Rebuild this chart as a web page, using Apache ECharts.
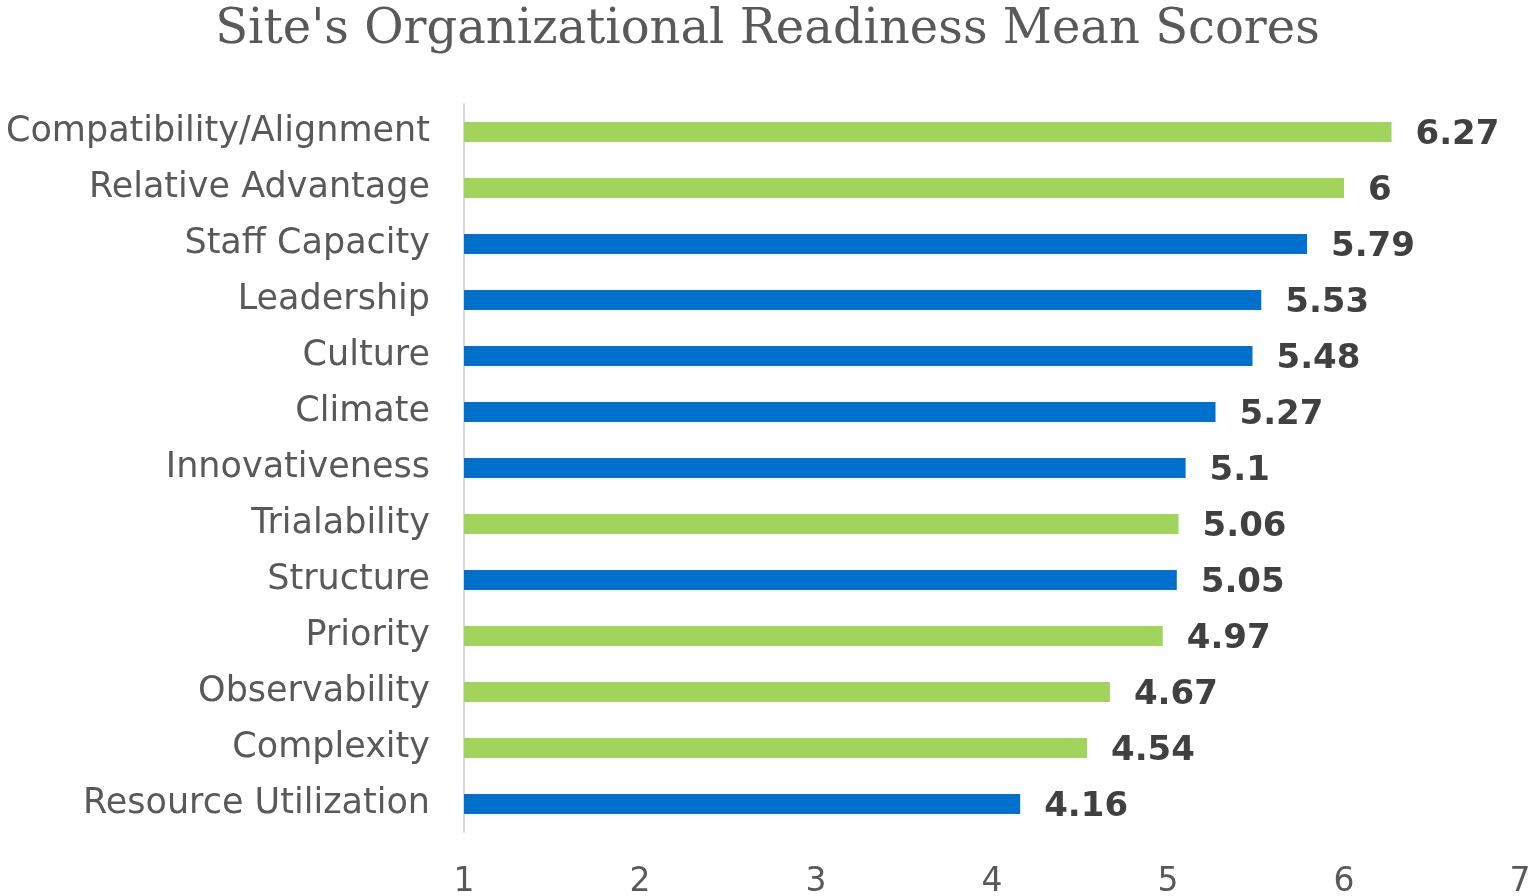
<!DOCTYPE html>
<html>
<head>
<meta charset="utf-8">
<script src="https://cdn.jsdelivr.net/npm/echarts@6/dist/echarts.min.js"></script>
<style>html,body{margin:0;padding:0;background:#fff}#c{width:1535px;height:896px}</style>
</head>
<body>
<div id="c"></div>
<script>
var categories = ["Compatibility/Alignment","Relative Advantage","Staff Capacity","Leadership","Culture","Climate","Innovativeness","Trialability","Structure","Priority","Observability","Complexity","Resource Utilization"];
var scores = [6.27, 6, 5.79, 5.53, 5.48, 5.27, 5.1, 5.06, 5.05, 4.97, 4.67, 4.54, 4.16];
var groups = ["A","A","B","B","B","B","B","A","B","A","A","A","B"];
var xTicks = [1,2,3,4,5,6,7];
var groupColor = {A: "#A1D45D", B: "#0070CD"};

var chart = echarts.init(document.getElementById('c'));
chart.setOption({
  animation: false,
  title: {
    text: "Site's Organizational Readiness Mean Scores",
    left: 'center', top: 2,
    textStyle: {fontFamily: 'DejaVu Serif', fontSize: 48, fontWeight: 'normal', color: '#595959'}
  },
  grid: {left: 464, right: 15, top: 104, height: 728, outerBoundsMode: 'none'},
  xAxis: {
    type: 'value', min: xTicks[0], max: xTicks[xTicks.length-1], interval: 1,
    axisLine: {show: false}, axisTick: {show: false}, splitLine: {show: false},
    axisLabel: {fontFamily: 'DejaVu Sans', fontSize: 33, color: '#595959', margin: 34}
  },
  yAxis: {
    type: 'category', data: categories, inverse: true,
    axisLine: {show: true, lineStyle: {color: '#D9D9D9', width: 2}},
    axisTick: {show: false},
    axisLabel: {fontFamily: 'DejaVu Sans', fontSize: 35, color: '#595959', margin: 34}
  },
  series: [{
    type: 'bar',
    data: scores.map(function(v, i){ return {value: v, itemStyle: {color: groupColor[groups[i]]}}; }),
    barWidth: 20,
    label: {show: true, position: 'right', distance: 24, offset: [0, 3], fontFamily: 'DejaVu Sans', fontSize: 34, fontWeight: 'bold', color: '#404040'}
  }]
});
</script>
</body>
</html>
